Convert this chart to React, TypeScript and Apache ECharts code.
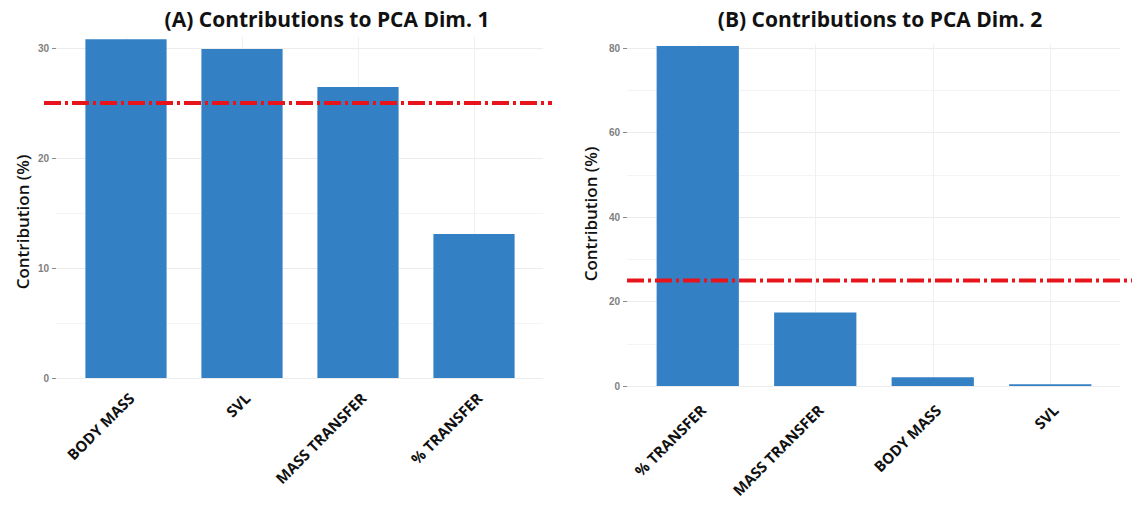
import React, { useEffect, useRef } from "react";
import * as echarts from "echarts";

const catsA = ["BODY MASS", "SVL", "MASS TRANSFER", "% TRANSFER"];
const valsA = [30.8, 29.9, 26.45, 13.1];
const catsB = ["% TRANSFER", "MASS TRANSFER", "BODY MASS", "SVL"];
const valsB = [80.5, 17.4, 2.1, 0.4];
const ticksA = [0, 10, 20, 30];
const ticksB = [0, 20, 40, 60, 80];
const maxA = 31;
const maxB = 81;
const threshold = 25;
const titleA = "(A) Contributions to PCA Dim. 1";
const titleB = "(B) Contributions to PCA Dim. 2";
const yName = "Contribution (%)";

const BAR = "#3380c5";
const RED = "#e8141c";
const GRID = "#ececec";
const FONT = "'Open Sans', 'Noto Sans', sans-serif";

export default function App() {
  const ref = useRef<HTMLDivElement>(null);
  useEffect(() => {
    if (!ref.current) return;
    const chart = echarts.init(ref.current, null, { renderer: "svg" });

    const displayY = (gridIndex: number, max: number, interval: number, ticks: number[]) => ({
      type: "value",
      gridIndex,
      min: 0,
      max,
      interval,
      axisLine: { show: false },
      axisTick: { show: true, length: 4, customValues: ticks, lineStyle: { color: "#8a8a8a" } },
      axisLabel: {
        fontFamily: "'Liberation Sans', Arial, sans-serif",
        fontSize: 10,
        fontWeight: "bold",
        color: "#808080",
        margin: 7,
        customValues: ticks,
      },
      splitLine: { show: true, lineStyle: { color: GRID, width: 1 } },
      minorTick: { show: false, splitNumber: 2 },
      minorSplitLine: { show: true, lineStyle: { color: "#f4f4f4", width: 1 } },
    });
    const hiddenX = (gridIndex: number) => ({
      type: "value",
      gridIndex,
      min: 0,
      max: 1,
      show: false,
    });
    const hiddenY = (gridIndex: number, max: number) => ({
      type: "value",
      gridIndex,
      min: 0,
      max,
      show: false,
    });
    const catX = (cats: string[], gridIndex: number, margin: number) => ({
      type: "category",
      gridIndex,
      data: cats,
      axisLine: { show: false },
      axisTick: { show: false, alignWithLabel: true },
      splitLine: { show: true, alignWithLabel: true, lineStyle: { color: "#f0f0f0" } },
      axisLabel: {
        rotate: 45,
        interval: 0,
        margin,
        verticalAlign: "top",
        fontFamily: FONT,
        fontWeight: "bold",
        fontSize: 15,
        color: "#111",
      },
    });
    const redLine = (idx: number) => ({
      type: "line",
      xAxisIndex: idx,
      yAxisIndex: idx,
      data: [
        [0, threshold],
        [1, threshold],
      ],
      symbol: "none",
      z: 10,
      lineStyle: { color: RED, width: 4, type: [17, 4, 3, 4] },
    });
    const bars = (idx: number, vals: number[]) => ({
      type: "bar",
      xAxisIndex: idx,
      yAxisIndex: idx,
      data: vals,
      barWidth: "70%",
      itemStyle: { color: BAR },
    });
    const titleStyle = { fontFamily: FONT, fontWeight: "bold", fontSize: 21, color: "#111" };
    const nameStyle = {
      text: yName,
      fontFamily: FONT,
      fontSize: 17,
      fontWeight: 600,
      fill: "#111",
      align: "center",
      verticalAlign: "middle",
    };

    chart.setOption({
      animation: false,
      title: [
        { text: titleA, left: 322, top: 3, textAlign: "center", textStyle: titleStyle },
        { text: titleB, left: 875, top: 3, textAlign: "center", textStyle: titleStyle },
      ],
      graphic: [
        { type: "text", x: 22, y: 222, rotation: Math.PI / 2, style: nameStyle },
        { type: "text", x: 590, y: 214, rotation: Math.PI / 2, style: nameStyle },
      ],
      grid: [
        { left: 56, right: 589, top: 37, bottom: 136 },
        { left: 68, right: 600, top: 37, bottom: 136 },
        { left: 44, right: 580, top: 37, bottom: 136 },
        { left: 627, right: 12, top: 44, bottom: 128 },
        { left: 639, right: 23, top: 44, bottom: 128 },
        { left: 627, right: 0, top: 44, bottom: 128 },
      ],
      xAxis: [
        hiddenX(0),
        catX(catsA, 1, 12),
        hiddenX(2),
        hiddenX(3),
        catX(catsB, 4, 16),
        hiddenX(5),
      ],
      yAxis: [
        displayY(0, maxA, 10, ticksA),
        hiddenY(1, maxA),
        hiddenY(2, maxA),
        displayY(3, maxB, 20, ticksB),
        hiddenY(4, maxB),
        hiddenY(5, maxB),
      ],
      series: [bars(1, valsA), redLine(2), bars(4, valsB), redLine(5)],
    });
    return () => chart.dispose();
  }, []);
  return (
    <div
      ref={ref}
      style={{ position: "fixed", left: 0, top: 0, width: 1132, height: 514, background: "#fff" }}
    />
  );
}
